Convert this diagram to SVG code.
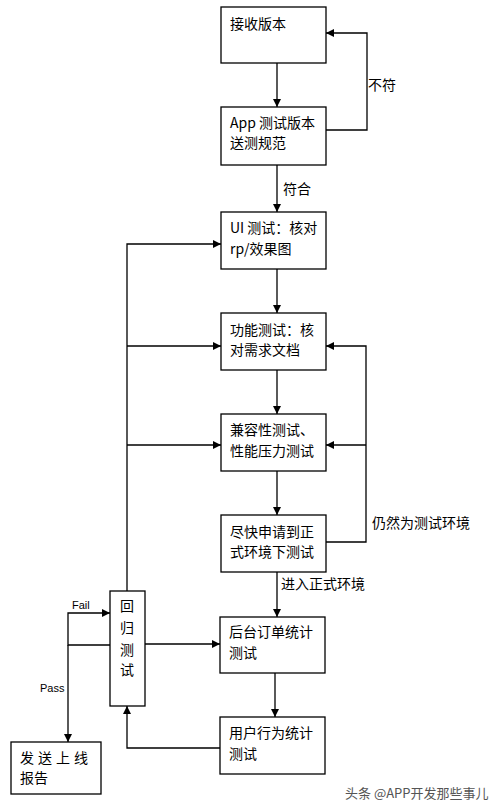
<svg xmlns="http://www.w3.org/2000/svg" width="503" height="811" viewBox="0 0 503 811">
<defs>
<marker id="ah" viewBox="0 0 10 10" refX="10" refY="5" markerWidth="8" markerHeight="8" markerUnits="userSpaceOnUse" orient="auto"><path d="M0,0 L10,5 L0,10 Z" fill="#000"/></marker>
<style>
.b{fill:#fff;stroke:#000;stroke-width:1.3}
.t{font-family:"Noto Sans CJK SC","Liberation Sans",sans-serif;font-size:14px;fill:#000}
.s{font-family:"Liberation Sans","Noto Sans CJK SC",sans-serif;font-size:11px;fill:#000}
.c{fill:none;stroke:#000;stroke-width:1.3}
.a{marker-end:url(#ah)}
</style>
</defs>
<rect width="503" height="811" fill="#fff"/>
<g id="connectors">
<path class="c a" d="M277,63 V107"/>
<path class="c a" d="M326,130 H367 V33 H326"/>
<path class="c a" d="M277,165 V212"/>
<path class="c a" d="M277,269 V313"/>
<path class="c a" d="M277,370 V414"/>
<path class="c a" d="M277,471 V515"/>
<path class="c a" d="M326,542 H366 V346 H326"/>
<path class="c a" d="M366,445 H326"/>
<path class="c a" d="M277,572 V617"/>
<path class="c a" d="M275,673 V717"/>
<path class="c a" d="M127,591 V244 H221"/>
<path class="c a" d="M127,346 H221"/>
<path class="c a" d="M127,445 H221"/>
<path class="c a" d="M145,644 H220"/>
<path class="c a" d="M220,748 H127 V706"/>
<path class="c a" d="M110,645 H68 V613 H110"/>
<path class="c a" d="M68,645 V742"/>
<text class="t" x="368" y="90">不符</text>
<text class="t" x="283" y="194">符合</text>
<text class="t" x="372" y="528">仍然为测试环境</text>
<text class="t" x="281" y="589">进入正式环境</text>
<text class="s" x="72" y="609">Fail</text>
<text class="s" x="40" y="692">Pass</text>
</g>
<g id="n1"><rect class="b" x="221" y="7" width="105" height="56"/><text class="t" x="230" y="29">接收版本</text></g>
<g id="n2"><rect class="b" x="221" y="107" width="105" height="58"/><text class="t" x="230" y="128">App 测试版本</text><text class="t" x="230" y="148">送测规范</text></g>
<g id="n3"><rect class="b" x="221" y="212" width="105" height="57"/><text class="t" x="230" y="233">UI 测试：核对</text><text class="t" x="230" y="254">rp/效果图</text></g>
<g id="n4"><rect class="b" x="221" y="313" width="105" height="57"/><text class="t" x="230" y="335">功能测试：核</text><text class="t" x="230" y="355">对需求文档</text></g>
<g id="n5"><rect class="b" x="221" y="414" width="105" height="57"/><text class="t" x="230" y="435">兼容性测试、</text><text class="t" x="230" y="456">性能压力测试</text></g>
<g id="n6"><rect class="b" x="221" y="515" width="105" height="57"/><text class="t" x="230" y="537">尽快申请到正</text><text class="t" x="230" y="557">式环境下测试</text></g>
<g id="n7"><rect class="b" x="220" y="617" width="105" height="56"/><text class="t" x="229" y="637">后台订单统计</text><text class="t" x="229" y="658">测试</text></g>
<g id="n8"><rect class="b" x="220" y="717" width="105" height="57"/><text class="t" x="229" y="738">用户行为统计</text><text class="t" x="229" y="759">测试</text></g>
<g id="n9"><rect class="b" x="110" y="591" width="35" height="115"/><text class="t" x="127" y="611" text-anchor="middle">回</text><text class="t" x="127" y="633" text-anchor="middle">归</text><text class="t" x="127" y="655" text-anchor="middle">测</text><text class="t" x="127" y="675" text-anchor="middle">试</text></g>
<g id="n10"><rect class="b" x="11" y="742" width="90" height="52"/><text class="t" x="20" y="763" letter-spacing="4">发送上线</text><text class="t" x="20" y="783">报告</text></g>
<text x="345" y="798" font-family="Noto Sans CJK SC,sans-serif" font-size="13" fill="#555">头条 @APP开发那些事儿</text>
</svg>
